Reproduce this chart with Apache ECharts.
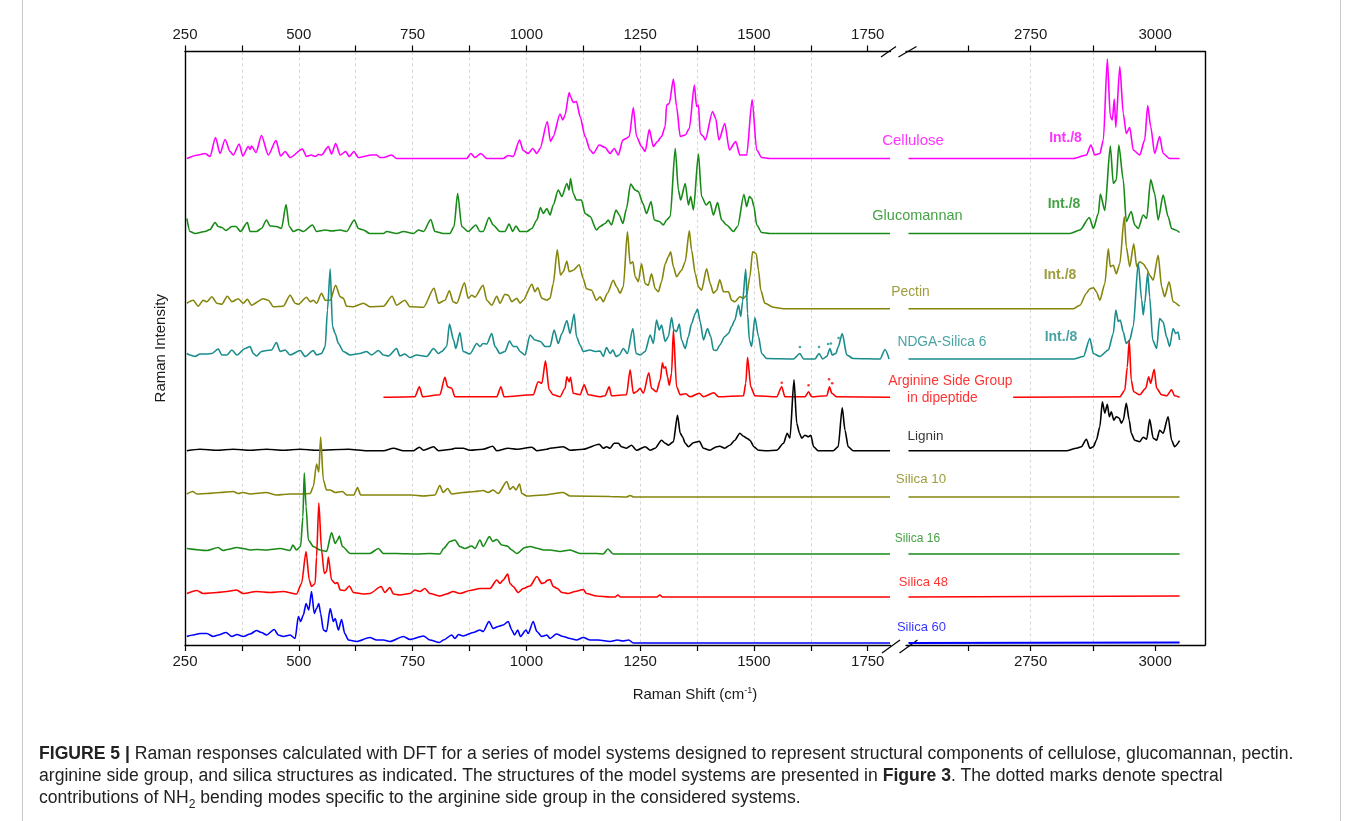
<!DOCTYPE html>
<html lang="en">
<head>
<meta charset="utf-8">
<title>Raman responses</title>
<script src="https://cdn.jsdelivr.net/npm/echarts@6/dist/echarts.min.js"></script>
<style>
  html, body { margin: 0; padding: 0; background: #fff; }
  #wrap { position: relative; width: 1362px; height: 821px; overflow: hidden; }
  #chart { position: absolute; left: 0; top: 0; width: 1362px; height: 821px; }
  #frame { position: absolute; left: 22px; top: -2px; width: 1319px; height: 840px; border: 1px solid #c8c8c8; box-sizing: border-box; z-index: 2; pointer-events: none; }
  #cap { position: absolute; left: 39px; top: 742px; font-family: 'Liberation Sans', Arial, sans-serif; font-size: 17.6px; line-height: 22px; color: #222; white-space: nowrap; z-index: 3; }
  #cap sub { font-size: 12px; line-height: 0; }
</style>
</head>
<body>
<div id="wrap">
  <div id="chart"></div>
  <div id="frame"></div>
  <div id="cap"><b>FIGURE 5 |</b> Raman responses calculated with DFT for a series of model systems designed to represent structural components of cellulose, glucomannan, pectin.<br>arginine side group, and silica structures as indicated. The structures of the model systems are presented in <b>Figure 3</b>. The dotted marks denote spectral<br>contributions of NH<sub>2</sub> bending modes specific to the arginine side group in the considered systems.</div>
</div>
<script>
// x axis tick labels (two segments of a broken axis)
var lowLabels = [250, 500, 750, 1000, 1250, 1500, 1750];
var lowTicks = [250, 375, 500, 625, 750, 875, 1000, 1125, 1250, 1375, 1500, 1625, 1750];
var highLabels = [2750, 3000];
var highTicks = [2625, 2750, 2875, 3000];

// spectra: [raman shift, intensity above own baseline]
var celluloseLow = [[254,0],[279,3.5],[294,5],[305,2],[317,21],[327,5],[338,19],[349,7],[356,3.5],[369,14.5],[377,2.5],[389,12],[393,9],[396,12.5],[406,6],[418,23],[433,3.5],[450,18],[460,2.5],[470,7],[481,1],[508,9.5],[517,2],[527,3.5],[536,2],[543,4],[550,3.5],[565,12],[572,4.5],[581,15],[591,3.5],[603,7],[611,2],[621,7],[631,1],[660,3.5],[671,3.5],[678,1],[686,1],[704,3.5],[715,0],[869,0],[878,5],[887,1],[900,5],[913,0],[949,0],[960,3],[971,2],[985,18.5],[993,8],[1004,5],[1014,10],[1023,5],[1030,10],[1046,37],[1053,17],[1059,22],[1074,44.5],[1080,38.5],[1085,43.5],[1094,66],[1097,62],[1103,56],[1110,57],[1118,42],[1129,22],[1140,8.5],[1147,5],[1160,13.5],[1173,11],[1184,5],[1193,10],[1202,3.5],[1212,18.5],[1219,20],[1226,22],[1235,51],[1242,22],[1253,12],[1261,7],[1270,29],[1279,12],[1288,17],[1297,22],[1305,32],[1308,53.5],[1314,55],[1323,79.5],[1330,52],[1338,22],[1349,23.5],[1358,30],[1369,73.5],[1374,52],[1378,53.5],[1382,25],[1389,22],[1393,18.5],[1409,47],[1416,40],[1423,18.5],[1436,35],[1446,8.5],[1460,17],[1469,3.5],[1484,3.5],[1496,59],[1506,8.5],[1517,1],[1535,0],[1799,0]];
var celluloseHigh = [[2505,0],[2836,0],[2862,3.5],[2871,13.5],[2879,3.5],[2889,5],[2896,18.5],[2904,99.5],[2910,42],[2914,38.5],[2918,59.5],[2921,31],[2929,92],[2936,45],[2942,25],[2949,31],[2956,8.5],[2969,3.5],[2979,18.5],[2985,53],[2991,32],[2999,5],[3009,22],[3016,5],[3029,0],[3049,0]];

var glucomannanLow = [[254,15],[261,2],[272,0],[294,2],[305,4],[316,11],[323,7],[331,6],[340,3],[353,7],[362,7],[372,2],[387,11],[393,2],[407,2],[418,5],[429,13.5],[437,7.5],[451,7],[462,5],[472,29],[479,7],[488,2],[499,4],[510,2],[530,8.5],[539,2],[558,3.5],[572,2.5],[591,3.5],[605,2],[622,13.5],[631,5],[642,3.5],[656,0],[686,0],[693,2],[715,0],[730,2],[752,0],[763,3.5],[774,2],[790,14],[799,2],[818,0],[832,0],[841,7],[849,40],[858,7],[872,2],[889,8.5],[898,2],[905,2],[918,16],[927,8.5],[942,2],[953,2],[962,9.5],[970,2],[977,7.5],[986,2],[1001,2],[1012,5],[1023,13.5],[1031,26],[1037,20],[1045,25],[1052,18.5],[1059,28.5],[1070,43.5],[1078,37],[1089,50],[1094,43.5],[1097,55],[1103,40],[1110,33.5],[1121,33.5],[1129,20],[1140,17],[1154,3.5],[1162,7],[1173,10],[1180,13.5],[1187,8.5],[1197,23.5],[1204,18.5],[1212,10],[1220,25],[1229,49.5],[1239,43.5],[1246,42],[1256,30],[1264,20],[1274,32],[1281,13.5],[1292,12],[1301,8.5],[1308,13.5],[1316,17],[1327,85],[1334,43.5],[1339,33.5],[1349,50],[1356,28.5],[1361,37],[1367,23.5],[1378,79.5],[1385,37],[1395,28.5],[1403,32],[1411,18.5],[1420,31],[1429,13.5],[1440,8.5],[1455,2],[1464,7],[1478,39],[1484,27],[1490,37],[1495,35],[1500,27],[1506,8.5],[1517,1],[1535,0],[1799,0]];
var glucomannanHigh = [[2505,0],[2829,0],[2849,3.5],[2868,16],[2876,5],[2886,20],[2890,39.5],[2899,23],[2910,87.5],[2916,50],[2922,53.5],[2927,88.5],[2936,53.5],[2942,12],[2952,22],[2959,8.5],[2966,5],[2976,18.5],[2983,15],[2991,54],[2999,40],[3006,13.5],[3016,38.5],[3026,17],[3033,5],[3041,3.5],[3049,1]];

var pectinLow = [[254,5.5],[268,8.5],[279,2.5],[290,8.5],[298,7],[309,12],[320,5.5],[331,4.5],[343,12.5],[353,7],[367,10],[378,5.5],[387,9.5],[396,3.5],[422,10],[433,8.5],[444,2],[466,2.5],[481,13.5],[492,5.5],[499,4.5],[517,11.5],[525,7],[532,8.5],[539,5.5],[550,15.5],[558,8.5],[569,8.5],[581,23.5],[591,12],[598,10.5],[605,2.5],[620,2],[642,5.5],[656,2],[686,2.5],[705,12.5],[715,3.5],[733,8.5],[744,2],[774,1.5],[797,20.5],[807,5.5],[821,8.5],[831,18],[839,7],[847,5.5],[864,26],[872,10.5],[880,13.5],[887,11.5],[905,23.5],[913,8.5],[924,3.5],[935,12.5],[942,5.5],[953,14.5],[960,13.5],[968,7],[979,10.5],[986,5.5],[993,8.5],[1012,24.5],[1019,17],[1025,21],[1034,10.5],[1045,8.5],[1052,10.5],[1059,25],[1068,59],[1075,33.5],[1081,37],[1089,47.5],[1094,37],[1103,38.5],[1116,44],[1125,30],[1132,20],[1143,18.5],[1154,8.5],[1162,12],[1169,7],[1178,15.5],[1191,28.5],[1198,22],[1206,15.5],[1213,22],[1222,77],[1228,45],[1234,47],[1239,32],[1246,27],[1253,45],[1261,25],[1268,23.5],[1275,35],[1283,20],[1290,17],[1297,27],[1305,45],[1312,52],[1317,57],[1323,42],[1330,32],[1341,38.5],[1349,47],[1358,78],[1363,58.5],[1371,35],[1378,22],[1385,18.5],[1396,40],[1404,25],[1411,15.5],[1418,18.5],[1425,29],[1433,17],[1444,17],[1451,8.5],[1458,7],[1469,12],[1477,10.5],[1484,13.5],[1491,32],[1497,57],[1505,55],[1510,38.5],[1515,18.5],[1524,5.5],[1543,1.5],[1565,0],[1799,0]];
var pectinHigh = [[2505,0],[2836,0],[2849,3.5],[2862,15.5],[2869,20],[2876,21],[2882,17],[2889,8.5],[2899,25],[2906,60],[2910,42],[2916,43.5],[2922,35],[2929,45],[2938,92],[2942,62],[2949,42],[2957,65],[2963,42],[2969,47],[2976,45],[2983,40],[2989,33.5],[2996,28.5],[3006,53.5],[3013,22],[3019,12],[3028,27],[3036,7],[3049,2.5]];

var ndgaLow = [[254,5.5],[261,4],[272,2.5],[283,5],[298,5],[309,5.5],[323,10],[331,4],[342,4],[353,9],[364,4],[382,10.5],[393,12.5],[400,5.5],[407,3],[418,7.5],[429,8.5],[440,9],[451,16.5],[459,7.5],[470,9],[481,4],[503,8.5],[514,2.5],[532,8.5],[539,4],[550,5.5],[558,12.5],[563,49],[569,90],[574,32.5],[580,25.5],[587,15.5],[598,7.5],[613,4],[634,5.5],[649,7.5],[660,4],[675,8.5],[686,4],[697,3],[715,10.5],[722,3],[733,5],[744,1.5],[759,4],[781,2.5],[796,10.5],[807,5.5],[814,7.5],[825,12.5],[831,35],[840,19],[845,10.5],[854,26.5],[861,7.5],[876,5],[891,15.5],[898,12.5],[905,15.5],[913,15],[924,25.5],[931,12.5],[942,5.5],[953,7.5],[963,18],[971,12.5],[979,12.5],[986,7.5],[997,4],[1008,24],[1019,19],[1031,17.5],[1041,12.5],[1052,12.5],[1061,29],[1070,15.5],[1078,25.5],[1089,38.5],[1096,25.5],[1105,45],[1110,22.5],[1118,14],[1125,7.5],[1140,9],[1151,7.5],[1162,8],[1169,2.5],[1176,11.5],[1184,5.5],[1190,9],[1197,2.5],[1204,4],[1213,10.5],[1222,5.5],[1234,30.5],[1241,5.5],[1250,4],[1261,7.5],[1272,24],[1279,15.5],[1286,39],[1292,29],[1297,34],[1305,17.5],[1312,22.5],[1319,41.5],[1324,29],[1330,27.5],[1336,35],[1341,19],[1349,10.5],[1356,22.5],[1363,35.5],[1371,45.5],[1376,50],[1382,37],[1389,19],[1398,30.5],[1405,22.5],[1411,9],[1418,8.5],[1425,14],[1436,22.5],[1444,25.5],[1451,32.5],[1458,39],[1466,54],[1471,42.5],[1475,57.5],[1482,90],[1486,45.5],[1490,19],[1495,12.5],[1502,41.5],[1510,22.5],[1517,5.5],[1528,0.5],[1587,0],[1601,5.5],[1609,0],[1634,0],[1643,5.5],[1651,0],[1660,2.5],[1667,10.5],[1672,4],[1680,5.5],[1685,12],[1694,25.5],[1704,4],[1718,0.5],[1777,0],[1788,9.5],[1797,0]];
var ndgaHigh = [[2505,0],[2836,0],[2856,2.5],[2869,20.5],[2876,5.5],[2889,2.5],[2906,9],[2916,25.5],[2921,49],[2926,37.5],[2930,39],[2936,27],[2942,15.5],[2949,19],[2956,32.5],[2966,96],[2973,59],[2976,44],[2979,55.5],[2985,86],[2989,62],[2995,19],[3003,10.5],[3009,40.5],[3016,37],[3023,22],[3029,12.5],[3036,30.5],[3041,25.5],[3046,27],[3049,19]];
var ndgaDots = [[1601,12],[1643,12],[1663,15],[1669,15.5],[1686,21]];

var arginineLow = [[686,0],[755,0.5],[765,10.5],[772,0.5],[810,2.5],[821,20],[827,10.5],[836,9],[843,0.5],[935,0.5],[944,10.5],[951,0.5],[1015,2.5],[1026,15.5],[1034,14],[1042,36.5],[1050,7.5],[1059,2.5],[1074,0.5],[1085,9],[1089,20.5],[1094,15.5],[1097,20],[1103,4],[1118,2.5],[1127,12.5],[1136,2.5],[1162,0.5],[1173,1.5],[1182,10.5],[1187,1.5],[1220,2.5],[1228,27.5],[1235,4],[1242,5.5],[1250,9],[1257,4],[1269,24.5],[1275,9],[1286,5.5],[1294,17.5],[1299,34.5],[1302,29],[1306,30.5],[1310,20.5],[1314,12],[1319,24],[1323,67],[1330,10.5],[1338,2.5],[1350,3.5],[1360,0.5],[1380,4],[1389,0.5],[1412,4.5],[1422,0.5],[1477,1.5],[1482,14],[1486,40],[1493,10.5],[1502,1.5],[1550,0.5],[1561,10.5],[1568,0.5],[1612,0.5],[1620,5.5],[1627,0.5],[1660,1.5],[1666,10.5],[1671,4],[1682,0.5],[1799,0]];
var arginineHigh = [[2715,0],[2929,0.5],[2939,7],[2944,30],[2948,57],[2952,17],[2957,5.5],[2969,2.5],[2981,9],[2987,20.5],[2991,14],[2998,28],[3003,9],[3013,2.5],[3023,1.5],[3033,7.5],[3039,1.5],[3049,0]];
var arginineDots = [[1561,14.5],[1620,12],[1665,18],[1672,14]];

var ligninLow = [[254,0],[283,1.5],[320,0.5],[356,1.5],[393,0.5],[429,1.5],[466,0.5],[503,1.5],[539,0.5],[609,1.5],[649,0],[686,0],[708,2.5],[730,0],[752,0],[765,3.5],[774,0.5],[796,4],[807,0],[836,1.5],[843,2.5],[861,2.5],[876,0.5],[905,1.5],[926,4.5],[935,0],[960,2.5],[979,1.5],[1012,3.5],[1023,0],[1045,1.5],[1052,2.5],[1081,4],[1096,0.5],[1125,1.5],[1160,6.5],[1169,2.5],[1176,4],[1184,2.5],[1193,7.5],[1202,7.5],[1209,4],[1220,2.5],[1231,5.5],[1242,0.5],[1261,4],[1272,0.5],[1283,2.5],[1297,10.5],[1305,7.5],[1312,5.5],[1323,9],[1332,35.5],[1338,17.5],[1343,14],[1349,7.5],[1356,4],[1367,8],[1380,9.5],[1389,2.5],[1403,0.5],[1418,4],[1425,4.5],[1436,2.5],[1447,5.5],[1458,10.5],[1469,17.5],[1477,14.5],[1484,12.5],[1491,10.5],[1500,4],[1510,0.5],[1528,0],[1550,0.5],[1565,7.5],[1573,17.5],[1579,12.5],[1588,71],[1594,27.5],[1600,17.5],[1605,12.5],[1612,15.5],[1620,14],[1625,15.5],[1631,4],[1641,0],[1674,0],[1685,4],[1694,43],[1700,20.5],[1707,4],[1718,0],[1799,0]];
var ligninHigh = [[2505,0],[2822,0],[2842,2.5],[2852,4],[2862,11.5],[2869,2.5],[2876,4],[2882,10.5],[2889,24],[2894,49],[2899,37.5],[2904,46.5],[2908,34],[2912,39],[2917,30.5],[2922,34],[2928,32.5],[2932,27.5],[2936,30.5],[2942,47.5],[2948,30.5],[2952,17.5],[2959,10.5],[2969,9],[2976,13.5],[2983,11.5],[2989,31.5],[2996,12.5],[3003,10.5],[3009,20.5],[3016,17.5],[3026,34],[3033,10.5],[3039,4],[3049,10]];

var silica10Low = [[254,3],[267,5.5],[276,3],[298,3.5],[327,4.5],[356,5.5],[367,3.5],[378,4.5],[393,3],[428,4.5],[451,2],[481,3],[510,3],[525,3.5],[532,10.5],[539,33],[544,25],[548,60],[554,17],[561,7],[569,7],[580,4.5],[596,5.5],[605,2],[621,2],[629,9.5],[636,2],[686,2],[748,2],[774,1],[799,2],[810,11.5],[817,4.5],[827,8.5],[836,3],[861,4.5],[887,5.5],[905,6.5],[916,4.5],[927,7],[938,3.5],[957,15.5],[964,7.5],[971,10.5],[977,7],[985,13],[990,3.5],[1001,1],[1037,2],[1081,4.5],[1096,1],[1184,0.5],[1220,0],[1228,1.5],[1236,0],[1799,0]];
var silica10High = [[2505,0],[3049,0]];

var silica16Low = [[254,5.5],[298,3.5],[323,6.5],[334,3.5],[343,4.5],[364,6.5],[378,5.5],[393,4],[407,4.5],[429,4],[459,5.5],[481,3.5],[487,9],[495,4],[504,7.5],[509,37],[512,81],[516,47.5],[521,14],[532,7.5],[547,4],[561,2.5],[572,21.5],[580,10.5],[585,14],[589,18],[596,7.5],[613,0.5],[656,0.5],[675,5.5],[686,0.5],[715,0.5],[759,0],[788,0.5],[810,0],[818,5.5],[832,12.5],[843,14],[854,7.5],[865,5.5],[880,8],[887,5.5],[898,14],[905,7.5],[919,17.5],[926,12.5],[935,14.5],[946,9],[958,8],[968,4],[979,0.5],[997,6.5],[1008,7.5],[1026,5.5],[1037,4],[1052,4],[1074,2.5],[1096,4],[1118,0.5],[1154,0.5],[1169,0],[1179,5],[1191,0],[1799,0]];
var silica16High = [[2505,0],[3049,0]];

var silica48Low = [[254,3.5],[276,6.5],[290,3.5],[320,4.5],[342,5.5],[363,7],[378,3.5],[407,5.5],[437,4.5],[466,5.5],[495,3],[506,13.5],[516,45.5],[523,17],[528,10.5],[536,13.5],[539,40],[544,94],[550,47],[556,23.5],[561,25.5],[565,40],[572,17],[580,13.5],[585,14.5],[591,7],[601,6.5],[611,11],[620,4.5],[642,3],[656,3.5],[681,10.5],[689,4.5],[700,9.5],[708,3],[722,2],[744,3.5],[755,7],[766,5.5],[777,8.5],[788,3.5],[810,1],[825,3],[839,5.5],[854,3.5],[876,6.5],[898,8.5],[920,8.5],[935,17],[942,13.5],[949,17],[959,23],[964,13.5],[971,10.5],[982,4.5],[993,8.5],[1008,11],[1023,20.5],[1034,13.5],[1041,14.5],[1045,16.5],[1052,17.5],[1059,10.5],[1068,8.5],[1078,4.5],[1092,3.5],[1107,5.5],[1125,7.5],[1132,3.5],[1154,1],[1184,0],[1195,0],[1201,2],[1207,0],[1287,0],[1293,2],[1299,0],[1799,0]];
var silica48High = [[2505,0],[3049,1]];

var silica60Low = [[254,6.5],[268,8],[283,9.5],[298,9.5],[312,6.5],[323,8],[340,10.5],[353,6.5],[364,8.5],[378,6.5],[393,9],[407,12.5],[418,10.5],[429,8],[446,13.5],[455,8],[466,6.5],[481,8],[492,4.5],[499,26.5],[504,21.5],[510,28],[516,39.5],[522,33],[528,51.5],[534,29.5],[539,34.5],[544,39.5],[548,29.5],[554,13],[561,11.5],[569,34.5],[576,21.5],[580,24.5],[587,13],[594,23.5],[601,9.5],[609,3],[627,1.5],[656,5.5],[671,3],[686,3],[700,1.5],[730,6.5],[744,3.5],[774,7],[788,3],[809,0.5],[818,3],[836,8],[843,4.5],[851,8.5],[861,7],[883,10.5],[898,13],[905,11.5],[918,21.5],[927,14.5],[938,16.5],[949,18],[960,21.5],[968,13],[974,8],[981,13],[987,6.5],[999,13],[1004,9.5],[1015,21.5],[1023,11.5],[1034,6.5],[1045,8],[1052,4.5],[1066,9],[1081,6.5],[1096,4.5],[1110,3],[1125,5.5],[1140,3],[1158,3],[1184,1.5],[1200,3],[1212,2],[1225,3],[1235,0],[1799,0]];
var silica60High = [[2505,0],[3049,0.5]];

// vertical stacking offset of each trace
var offsets = {
  cellulose: 488.5, glucomannan: 413.5, pectin: 338.3, ndga: 288, arginine: 249.7,
  lignin: 196.3, silica10: 150, silica16: 93, silica48: 50, silica60: 4
};

var colors = {
  cellulose: '#ff00ff', glucomannan: '#178a17', pectin: '#85850c', ndga: '#1a8c8c', arginine: '#ff0000',
  lignin: '#000000', silica10: '#85850c', silica16: '#178a17', silica48: '#ff0000', silica60: '#0000ff'
};

var traces = [
  ['cellulose', celluloseLow, celluloseHigh],
  ['glucomannan', glucomannanLow, glucomannanHigh],
  ['pectin', pectinLow, pectinHigh],
  ['ndga', ndgaLow, ndgaHigh],
  ['arginine', arginineLow, arginineHigh],
  ['lignin', ligninLow, ligninHigh],
  ['silica10', silica10Low, silica10High],
  ['silica16', silica16Low, silica16High],
  ['silica48', silica48Low, silica48High],
  ['silica60', silica60Low, silica60High]
];

// text next to the traces: [text, shift, height, colour key, size, bold]
var tags = [
  ['Cellulose', 2514, 506, 'cellulose', 15, false],
  ['Int./8', 2820, 509, 'cellulose', 14, true],
  ['Glucomannan', 2523, 431, 'glucomannan', 14.5, false],
  ['Int./8', 2817, 443, 'glucomannan', 14, true],
  ['Pectin', 2509, 355, 'pectin', 13.8, false],
  ['Int./8', 2809, 371.5, 'pectin', 14, true],
  ['NDGA-Silica 6', 2572, 304.5, 'ndga', 13.8, false],
  ['Int./8', 2811, 309.5, 'ndga', 14, true],
  ['Arginine Side Group', 2589, 265.5, 'arginine', 13.8, false],
  ['in dipeptide', 2573, 248.5, 'arginine', 13.8, false],
  ['Lignin', 2539, 210.5, 'lignin', 13.5, false],
  ['Silica 10', 2530, 168, 'silica10', 13.3, false],
  ['Silica 16', 2523, 108, 'silica16', 12, false],
  ['Silica 48', 2535, 65, 'silica48', 13, false],
  ['Silica 60', 2531, 20, 'silica60', 13, false]
];

var font = 'Liberation Sans, Arial, sans-serif';
var chart = echarts.init(document.getElementById('chart'));

function shift(pts, off) {
  return pts.map(function (p) { return [p[0], p[1] + off]; });
}

var series = [];
traces.forEach(function (t) {
  var key = t[0];
  series.push({
    type: 'line', xAxisIndex: 0, yAxisIndex: 0, data: shift(t[1], offsets[key]),
    symbol: 'none', smooth: 0.25, smoothMonotone: 'x', silent: true,
    lineStyle: { color: colors[key], width: 1.6 }, z: 3
  });
  series.push({
    type: 'line', xAxisIndex: 2, yAxisIndex: 1, data: shift(t[2], offsets[key]),
    symbol: 'none', smooth: 0.25, smoothMonotone: 'x', silent: true,
    lineStyle: { color: colors[key], width: key === 'silica60' ? 2.2 : 1.6 }, z: 3
  });
});

series.push({
  type: 'scatter', xAxisIndex: 0, yAxisIndex: 0, symbolSize: 2.6, silent: true,
  itemStyle: { color: colors.ndga }, data: shift(ndgaDots, offsets.ndga), z: 4
});
series.push({
  type: 'scatter', xAxisIndex: 0, yAxisIndex: 0, symbolSize: 2.6, silent: true,
  itemStyle: { color: colors.arginine }, data: shift(arginineDots, offsets.arginine), z: 4
});
series.push({
  type: 'scatter', xAxisIndex: 2, yAxisIndex: 1, symbolSize: 1, silent: true, clip: false,
  itemStyle: { color: 'rgba(0,0,0,0)' }, z: 5,
  data: tags.map(function (g) {
    return {
      value: [g[1], g[2]],
      label: {
        show: true, position: 'inside', formatter: g[0], color: colors[g[3]],
        fontSize: g[4], fontWeight: g[5] ? 'bold' : 'normal', fontFamily: font
      }
    };
  })
});

function xAxisCfg(grid, pos, min, max, labels, ticks, split) {
  return {
    type: 'value', gridIndex: grid, position: pos, min: min, max: max, interval: 125,
    axisLine: { show: true, onZero: false, lineStyle: { color: '#000', width: 1.4 } },
    axisTick: { show: true, customValues: ticks, length: 6, lineStyle: { color: '#000', width: 1.2 } },
    axisLabel: {
      show: true, customValues: labels, margin: 9, color: '#1a1a1a', fontSize: 15, fontFamily: font,
      formatter: function (v) { return String(v); }
    },
    splitLine: { show: split, showMinLine: false, showMaxLine: false, lineStyle: { color: '#d6d6d6', width: 1, type: [3, 3] } }
  };
}

var option = {
  animation: false,
  backgroundColor: 'transparent',
  grid: [
    { left: 185, top: 51.5, width: 705.5, height: 593.5 },
    { left: 906, top: 51.5, width: 299, height: 593.5 }
  ],
  xAxis: [
    xAxisCfg(0, 'bottom', 250, 1800, lowLabels, lowTicks, true),
    xAxisCfg(0, 'top', 250, 1800, lowLabels, lowTicks, false),
    xAxisCfg(1, 'bottom', 2500, 3100, highLabels, highTicks, true),
    xAxisCfg(1, 'top', 2500, 3100, highLabels, highTicks, false)
  ],
  yAxis: [
    {
      type: 'value', gridIndex: 0, min: 2, max: 595.5, position: 'left',
      axisLine: { show: true, lineStyle: { color: '#000', width: 1.4 } },
      axisTick: { show: false }, axisLabel: { show: false }, splitLine: { show: false },
      name: 'Raman Intensity', nameLocation: 'middle', nameGap: 17,
      nameTextStyle: { color: '#1a1a1a', fontSize: 15, fontFamily: font }
    },
    {
      type: 'value', gridIndex: 1, min: 2, max: 595.5, position: 'right',
      axisLine: { show: true, lineStyle: { color: '#000', width: 1.4 } },
      axisTick: { show: false }, axisLabel: { show: false }, splitLine: { show: false }
    }
  ],
  graphic: [
    { type: 'text', x: 695, y: 695, style: { text: 'Raman Shift (cm{sup|-1})', align: 'center', verticalAlign: 'middle',
      fill: '#1a1a1a', font: '15px ' + font,
      rich: { sup: { fontSize: 9, fontFamily: font, fill: '#1a1a1a', verticalAlign: 'top', padding: [0, 0, 9, 0] } } } },
    { type: 'line', shape: { x1: 881, y1: 57, x2: 896, y2: 46.5 }, style: { stroke: '#000', lineWidth: 1.2 } },
    { type: 'line', shape: { x1: 898.5, y1: 57, x2: 916.5, y2: 46.5 }, style: { stroke: '#000', lineWidth: 1.2 } },
    { type: 'line', shape: { x1: 882, y1: 653, x2: 900, y2: 640 }, style: { stroke: '#000', lineWidth: 1.2 } },
    { type: 'line', shape: { x1: 899.5, y1: 653, x2: 917.5, y2: 640 }, style: { stroke: '#000', lineWidth: 1.2 } }
  ],
  series: series
};

chart.setOption(option);
</script>
</body>
</html>
